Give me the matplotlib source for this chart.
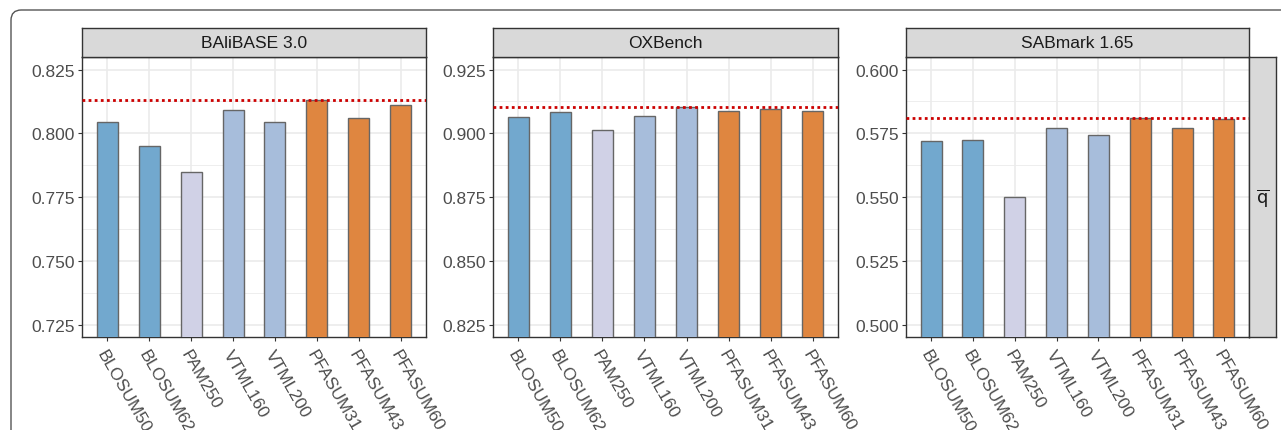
import matplotlib.pyplot as plt
import matplotlib.patches as patches
from matplotlib.ticker import MultipleLocator

plt.rcParams['font.family'] = ['Liberation Sans', 'DejaVu Sans']

# dados
matrices = ['BLOSUM50', 'BLOSUM62', 'PAM250', 'VTML160', 'VTML200',
            'PFASUM31', 'PFASUM43', 'PFASUM60']
benchmarks = ['BAliBASE 3.0', 'OXBench', 'SABmark 1.65']
balibase = [0.8045, 0.7951, 0.7849, 0.8093, 0.8046, 0.8129, 0.8061, 0.8109]
oxbench = [0.9062, 0.9083, 0.9014, 0.9069, 0.9103, 0.9087, 0.9095, 0.9088]
sabmark = [0.5721, 0.5724, 0.5500, 0.5770, 0.5744, 0.5810, 0.5772, 0.5805]
y_limits = [(0.7202, 0.8299), (0.8202, 0.9299), (0.4952, 0.6049)]
bar_colors = ['#72a8ce', '#72a8ce', '#d0d1e6', '#a7bddb', '#a7bddb',
              '#df8640', '#df8640', '#df8640']
strip_label = r'$\overline{\mathrm{q}}$'

W, H = 1281, 431
fig = plt.figure(figsize=(W / 100, H / 100), dpi=100)

def px_rect(x0, y0, x1, y1):
    return [x0 / W, 1 - y1 / H, (x1 - x0) / W, (y1 - y0) / H]

# moldura arredondada de fundo
moldura = patches.FancyBboxPatch((11 / W, -0.2), 1.2, 1 - 11 / H + 0.2,
                                 boxstyle='round,pad=0,rounding_size=0.008',
                                 transform=fig.transFigure, linewidth=1.0,
                                 edgecolor='#555555', facecolor='none',
                                 mutation_aspect=W / H)
fig.patches.append(moldura)

panels_x = [(82, 426), (493, 838), (906, 1249)]
top, bottom, strip_top = 58, 338, 29
series = [balibase, oxbench, sabmark]

for k, (x0, x1) in enumerate(panels_x):
    ax = fig.add_axes(px_rect(x0, top, x1, bottom))
    vals = series[k]
    pos = list(range(1, len(matrices) + 1))
    ax.bar(pos, vals, width=0.5, color=bar_colors, edgecolor='#666666',
           linewidth=1.0, zorder=3)
    ax.axhline(max(vals), color='#cc0000', linestyle=(0, (1, 1.2)),
               linewidth=2.0, zorder=4)
    ax.set_xlim(0.4, 8.6)
    ax.set_ylim(*y_limits[k])
    ax.yaxis.set_major_locator(MultipleLocator(0.025))
    ax.yaxis.set_minor_locator(MultipleLocator(0.0125))
    ax.yaxis.set_major_formatter(plt.FormatStrFormatter('%.3f'))
    ax.set_xticks(pos)
    ax.set_xticklabels(matrices, rotation=-60, ha='left', va='top',
                       rotation_mode='anchor')
    ax.grid(True, which='major', color='#ebebeb', linewidth=1.2, zorder=0)
    ax.grid(True, which='minor', axis='y', color='#ebebeb', linewidth=0.6,
            zorder=0)
    ax.set_axisbelow(True)
    ax.tick_params(axis='both', which='major', labelsize=12.5,
                   labelcolor='#4d4d4d', color='#333333', length=3, width=0.8,
                   pad=2)
    ax.tick_params(axis='y', which='minor', length=0)
    ax.tick_params(axis='x', pad=4)
    for s in ax.spines.values():
        s.set_color('#333333')
        s.set_linewidth(1.0)

    # faixa do título
    st = fig.add_axes(px_rect(x0, strip_top, x1, top))
    st.set_facecolor('#d9d9d9')
    st.set_xticks([])
    st.set_yticks([])
    for s in st.spines.values():
        s.set_color('#333333')
        s.set_linewidth(1.0)
    st.text(0.5, 0.5, benchmarks[k], ha='center', va='center',
            fontsize=12.5, color='#1a1a1a', transform=st.transAxes)

# faixa lateral direita
sr = fig.add_axes(px_rect(1249, top, 1276, bottom))
sr.set_facecolor('#d9d9d9')
sr.set_xticks([])
sr.set_yticks([])
for s in sr.spines.values():
    s.set_color('#333333')
    s.set_linewidth(1.0)
sr.text(0.5, 0.5, strip_label, ha='center', va='center', fontsize=13,
        color='#1a1a1a', transform=sr.transAxes)

plt.savefig('out.png', dpi=100, facecolor='white')
